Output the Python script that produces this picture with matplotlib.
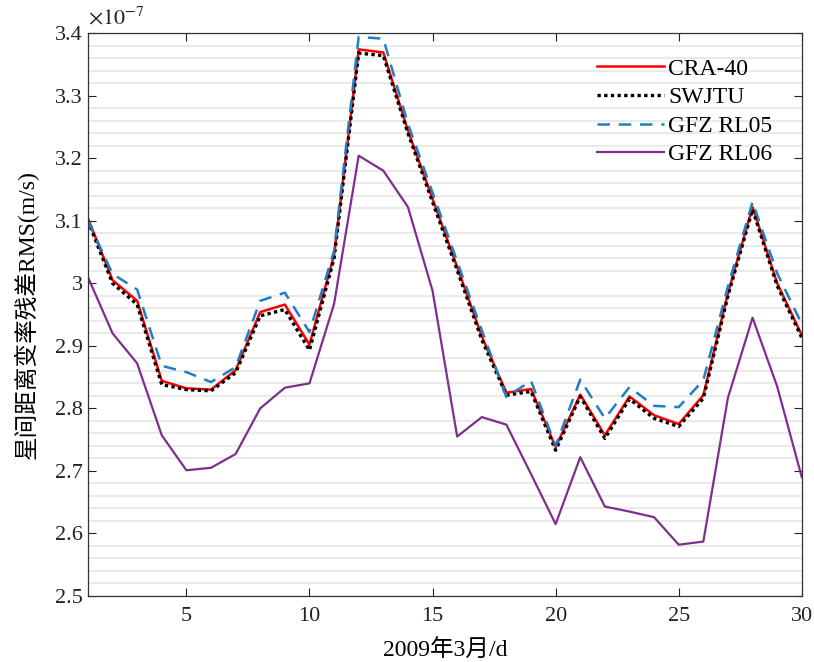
import numpy as np
import matplotlib
matplotlib.use('Agg')
import matplotlib.pyplot as plt
from matplotlib.ticker import MultipleLocator, FormatStrFormatter

plt.rcParams['font.family'] = ['Liberation Serif', 'Noto Sans CJK SC']
plt.rcParams['mathtext.fontset'] = 'stix'

# data, in units of 1e-7 m/s
days = list(range(1, 31))
cra40 = [3.104, 3.005, 2.972, 2.844, 2.832, 2.830, 2.861, 2.954, 2.966, 2.902,
         3.045, 3.374, 3.369, 3.244, 3.135, 3.026, 2.915, 2.825, 2.831, 2.738,
         2.822, 2.757, 2.819, 2.789, 2.775, 2.821, 2.984, 3.122, 3.000, 2.917]
swjtu = [3.100, 3.000, 2.966, 2.838, 2.830, 2.828, 2.857, 2.948, 2.958, 2.893,
         3.040, 3.368, 3.364, 3.240, 3.130, 3.021, 2.910, 2.821, 2.827, 2.733,
         2.819, 2.752, 2.815, 2.784, 2.771, 2.816, 2.980, 3.118, 2.996, 2.913]
gfz_rl05 = [3.100, 3.015, 2.990, 2.868, 2.858, 2.842, 2.866, 2.972, 2.985, 2.922,
            3.052, 3.394, 3.391, 3.255, 3.145, 3.035, 2.925, 2.818, 2.844, 2.740,
            2.846, 2.784, 2.834, 2.804, 2.802, 2.845, 2.995, 3.130, 3.016, 2.935]
gfz_rl06 = [3.010, 2.920, 2.872, 2.757, 2.701, 2.705, 2.727, 2.800, 2.833, 2.840,
            2.967, 3.204, 3.180, 3.122, 2.988, 2.755, 2.786, 2.774, 2.695, 2.615,
            2.722, 2.643, 2.635, 2.626, 2.582, 2.587, 2.817, 2.945, 2.835, 2.690]

fig = plt.figure(figsize=(8.14, 6.62), dpi=100)
ax = fig.add_axes([0.108, 0.0997, 0.877, 0.8503])

ax.plot(days, cra40, color='#ff0000', lw=1.8, label='CRA-40')
ax.plot(days, swjtu, color='black', lw=2.4, ls=(0, (1, 1)), label='SWJTU')
ax.plot(days, gfz_rl05, color='#1f7fc4', lw=1.8, ls=(0, (5, 3.5)), label='GFZ RL05')
ax.plot(days, gfz_rl06, color='#7e2f8e', lw=1.6, label='GFZ RL06')

ax.set_xlim(1, 30)
ax.set_ylim(2.5, 3.4)
ax.xaxis.set_major_locator(MultipleLocator(5))
ax.yaxis.set_major_locator(MultipleLocator(0.1))
ax.yaxis.set_minor_locator(MultipleLocator(0.02))
ax.yaxis.set_major_formatter(FormatStrFormatter('%g'))
ax.grid(True, which='minor', axis='y', color='#e6e6e6', lw=1.2)
ax.set_axisbelow(True)

ax.tick_params(which='major', direction='in', length=6, width=0.8,
               top=True, right=True, labelsize=16, colors='#222222')
ax.tick_params(axis='x', pad=8)
ax.tick_params(which='minor', length=0)
for s in ax.spines.values():
    s.set_color('#333333')
    s.set_linewidth(0.9)

ax.text(0.0, 1.006, r'$\times10^{-7}$', transform=ax.transAxes, fontsize=16,
        ha='left', va='bottom', color='#222222')

ax.set_xlabel('2009年3月/d', fontsize=17, labelpad=10)
ax.set_ylabel('星间距离变率残差RMS(m/s)', fontsize=17, labelpad=12)

leg = ax.legend(loc='upper right', frameon=False, fontsize=17,
                handlelength=2.8, handletextpad=0.2, labelspacing=0.3,
                borderaxespad=0.3, bbox_to_anchor=(0.982, 0.985))

fig.savefig('out.png', dpi=100)
